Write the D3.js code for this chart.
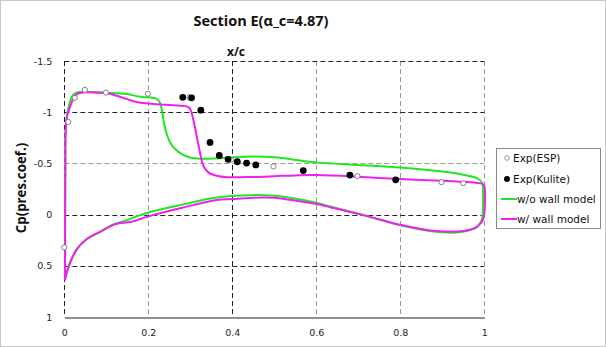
<!DOCTYPE html>
<html>
<head>
<meta charset="utf-8">
<script src="https://cdn.jsdelivr.net/npm/d3@7"></script>
<style>
  html, body { margin: 0; padding: 0; background: #fff; }
  svg { display: block; }
</style>
</head>
<body>
<svg id="chart" width="606" height="347"></svg>
<script>
// Pressure coefficient along the section, x/c vs Cp.
const xTicks = [0, 0.2, 0.4, 0.6, 0.8, 1];
const xTickLabels = ["0", "0.2", "0.4", "0.6", "0.8", "1"];
const yTicks = [-1.5, -1, -0.5, 0, 0.5, 1];
const yTickLabels = ["-1.5", "-1", "-0.5", "0", "0.5", "1"];

// Experimental data: ESP taps and Kulite sensors
const espX  = [0.0, 0.0095, 0.025, 0.049, 0.099, 0.199, 0.298, 0.397, 0.498, 0.698, 0.898, 0.95];
const espCp = [0.32, -0.905, -1.14, -1.218, -1.192, -1.18, -1.145, -0.535, -0.47, -0.376, -0.317, -0.307];
const kulX  = [0.282, 0.303, 0.325, 0.347, 0.369, 0.390, 0.412, 0.434, 0.456, 0.569, 0.680, 0.789];
const kulCp = [-1.145, -1.14, -1.02, -0.705, -0.577, -0.54, -0.516, -0.503, -0.485, -0.43, -0.386, -0.34];

// Simulation without wall model: upper and lower surfaces, each from the leading edge
const woUpper = [
  [0.0015, 0.64], [0.0018, 0.3], [0.002, 0.0], [0.0025, -0.5], [0.003, -0.8], [0.006, -0.96],
  [0.0095, -1.04], [0.015, -1.12], [0.02, -1.165], [0.03, -1.193], [0.045, -1.2], [0.06, -1.198], [0.08, -1.195],
  [0.1, -1.19], [0.149, -1.177], [0.181, -1.15], [0.2, -1.145], [0.22, -1.13], [0.227, -1.1],
  [0.232, -1.03], [0.237, -0.9], [0.244, -0.786], [0.252, -0.705], [0.264, -0.64], [0.28, -0.59],
  [0.299, -0.558], [0.323, -0.545], [0.36, -0.548], [0.4, -0.56], [0.45, -0.568], [0.5, -0.56],
  [0.6, -0.51], [0.7, -0.485], [0.8, -0.46], [0.9, -0.42], [0.95, -0.39], [0.97, -0.372],
  [0.985, -0.35], [0.995, -0.31]
];
const woLower = [
  [0.0015, 0.64], [0.006, 0.565], [0.014, 0.467], [0.03, 0.337], [0.053, 0.24], [0.085, 0.168],
  [0.117, 0.097], [0.145, 0.06], [0.2, -0.02], [0.283, -0.1], [0.363, -0.168], [0.442, -0.19],
  [0.5, -0.185], [0.553, -0.155], [0.6, -0.115], [0.633, -0.08], [0.712, 0.005], [0.8, 0.105],
  [0.87, 0.16], [0.91, 0.175], [0.934, 0.174], [0.966, 0.15], [0.982, 0.122], [0.992, 0.07],
  [0.996, 0.0], [0.997, -0.2]
];

// Simulation with wall model
const wUpper = [
  [0.0015, 0.64], [0.0018, 0.3], [0.002, 0.0], [0.0025, -0.5], [0.003, -0.8], [0.006, -0.95],
  [0.0095, -1.0], [0.0176, -1.096], [0.025, -1.16], [0.037, -1.187], [0.057, -1.195], [0.08, -1.19],
  [0.1, -1.185], [0.125, -1.16], [0.149, -1.128], [0.172, -1.1], [0.2, -1.085], [0.22, -1.078],
  [0.26, -1.068], [0.291, -1.057], [0.299, -1.035], [0.307, -0.93], [0.315, -0.77], [0.323, -0.607],
  [0.331, -0.477], [0.343, -0.412], [0.363, -0.379], [0.387, -0.365], [0.45, -0.368], [0.5, -0.375],
  [0.55, -0.383], [0.6, -0.386], [0.7, -0.37], [0.8, -0.347], [0.9, -0.33], [0.95, -0.32],
  [0.98, -0.31], [0.995, -0.3], [1.0, -0.28], [1.0, 0.0]
];
const wLower = [
  [0.0015, 0.64], [0.006, 0.565], [0.014, 0.467], [0.03, 0.337], [0.053, 0.24], [0.085, 0.168],
  [0.117, 0.1], [0.13, 0.085], [0.16, 0.07], [0.2, 0.017], [0.283, -0.07], [0.363, -0.142],
  [0.4, -0.152], [0.442, -0.163], [0.498, -0.165], [0.553, -0.135], [0.6, -0.103], [0.633, -0.072],
  [0.712, 0.005], [0.8, 0.1], [0.871, 0.155], [0.91, 0.165], [0.934, 0.165], [0.95, 0.16],
  [0.966, 0.148], [0.98, 0.125], [0.99, 0.09], [0.997, 0.05], [1.0, 0.0]
];

const svg = d3.select("#chart");
const W = 606, H = 347;

// outer chart border
svg.append("rect").attr("x", 0.5).attr("y", 0.5).attr("width", W - 1).attr("height", H - 1)
  .attr("fill", "#fff").attr("stroke", "#c8c8c8");

const x = d3.scaleLinear().domain([0, 1]).range([64.3, 484.3]);
const y = d3.scaleLinear().domain([-1.5, 1]).range([61, 317]);

// grid
const darkV = new Set([0, 0.4]);
const darkH = new Set([-1.5, -1, 0, 0.5]);
const grid = svg.append("g");
grid.selectAll("line.v").data(xTicks).join("line")
  .attr("x1", d => Math.round(x(d)) + 0.5).attr("x2", d => Math.round(x(d)) + 0.5)
  .attr("y1", y(-1.5)).attr("y2", y(1))
  .attr("stroke", d => darkV.has(d) ? "#222" : "#9a9a9a")
  .attr("stroke-width", 1).attr("stroke-dasharray", "5,3");
grid.selectAll("line.h").data(yTicks.filter(d => d !== 1)).join("line")
  .attr("x1", x(0)).attr("x2", x(1))
  .attr("y1", d => Math.round(y(d)) + 0.5).attr("y2", d => Math.round(y(d)) + 0.5)
  .attr("stroke", d => darkH.has(d) ? "#222" : "#9a9a9a")
  .attr("stroke-width", 1).attr("stroke-dasharray", "5,3");

// bottom axis
const xAxis = d3.axisBottom(x).tickValues(xTicks)
  .tickFormat((d, i) => xTickLabels[i]).tickSize(0).tickPadding(12);
const gx = svg.append("g").attr("transform", `translate(0,${Math.round(y(1)) + 0.5})`).call(xAxis);
gx.select(".domain").attr("stroke", "#222").attr("stroke-width", 1);
gx.selectAll("text").attr("font-family", "DejaVu Sans").attr("font-size", 9.5).attr("fill", "#222");

// left axis labels
const yAxis = d3.axisLeft(y).tickValues(yTicks)
  .tickFormat((d, i) => yTickLabels[i]).tickSize(0).tickPadding(12);
const gy = svg.append("g").attr("transform", `translate(${x(0)},0)`).call(yAxis);
gy.select(".domain").remove();
gy.selectAll("text").attr("font-family", "DejaVu Sans").attr("font-size", 9.5).attr("fill", "#222");

// curves
const line = d3.line().x(d => x(d[0])).y(d => y(d[1])).curve(d3.curveCatmullRom.alpha(0.5));
function loop(upper, lower) {
  return upper.concat(lower.slice().reverse());
}
svg.append("path").datum(loop(woUpper, woLower)).attr("d", line)
  .attr("fill", "none").attr("stroke", "#22e622").attr("stroke-width", 2).attr("stroke-linejoin", "round");
svg.append("path").datum(loop(wUpper, wLower)).attr("d", line)
  .attr("fill", "none").attr("stroke", "#f020f0").attr("stroke-width", 2).attr("stroke-linejoin", "round");

// experimental markers
svg.append("g").selectAll("circle").data(espX.map((v, i) => [v, espCp[i]])).join("circle")
  .attr("cx", d => x(d[0])).attr("cy", d => y(d[1])).attr("r", 2.6)
  .attr("fill", "#fff").attr("stroke", "#666").attr("stroke-width", 0.8);
svg.append("g").selectAll("circle").data(kulX.map((v, i) => [v, kulCp[i]])).join("circle")
  .attr("cx", d => x(d[0])).attr("cy", d => y(d[1])).attr("r", 3.4)
  .attr("fill", "#000");

// titles
svg.append("text").attr("x", 261).attr("y", 26).attr("text-anchor", "middle")
  .attr("font-family", "Open Sans").attr("font-weight", "bold").attr("font-size", 14.5)
  .attr("fill", "#111").text("Section E(α_c=4.87)");
svg.append("text").attr("x", 236).attr("y", 56).attr("text-anchor", "middle")
  .attr("font-family", "Open Sans").attr("font-weight", "bold").attr("font-size", 12)
  .attr("fill", "#111").text("x/c");
svg.append("text").attr("transform", "translate(26,188) rotate(-90)").attr("text-anchor", "middle")
  .attr("font-family", "Open Sans").attr("font-weight", "bold").attr("font-size", 13.3)
  .attr("fill", "#111").text("Cp(pres.coef.)");

// legend
const legend = svg.append("g");
legend.append("rect").attr("x", 496.5).attr("y", 148.5).attr("width", 104).attr("height", 80)
  .attr("fill", "#fff").attr("stroke", "#888");
const legendItems = [
  { label: "Exp(ESP)", type: "esp", cy: 158 },
  { label: "Exp(Kulite)", type: "kul", cy: 179 },
  { label: "w/o wall model", type: "line", color: "#22e622", cy: 199 },
  { label: "w/ wall model", type: "line", color: "#f020f0", cy: 219 }
];
legendItems.forEach(it => {
  if (it.type === "esp") {
    legend.append("circle").attr("cx", 507).attr("cy", it.cy).attr("r", 2.3)
      .attr("fill", "#fff").attr("stroke", "#777").attr("stroke-width", 0.8);
  } else if (it.type === "kul") {
    legend.append("circle").attr("cx", 507).attr("cy", it.cy).attr("r", 3).attr("fill", "#000");
  } else {
    legend.append("line").attr("x1", 501).attr("x2", 517).attr("y1", it.cy).attr("y2", it.cy)
      .attr("stroke", it.color).attr("stroke-width", 2);
  }
  legend.append("text").attr("x", it.type === "line" ? 517 : 513).attr("y", it.cy + 4)
    .attr("font-family", "DejaVu Sans").attr("font-size", 10.5).attr("fill", "#111").text(it.label);
});
</script>
</body>
</html>
